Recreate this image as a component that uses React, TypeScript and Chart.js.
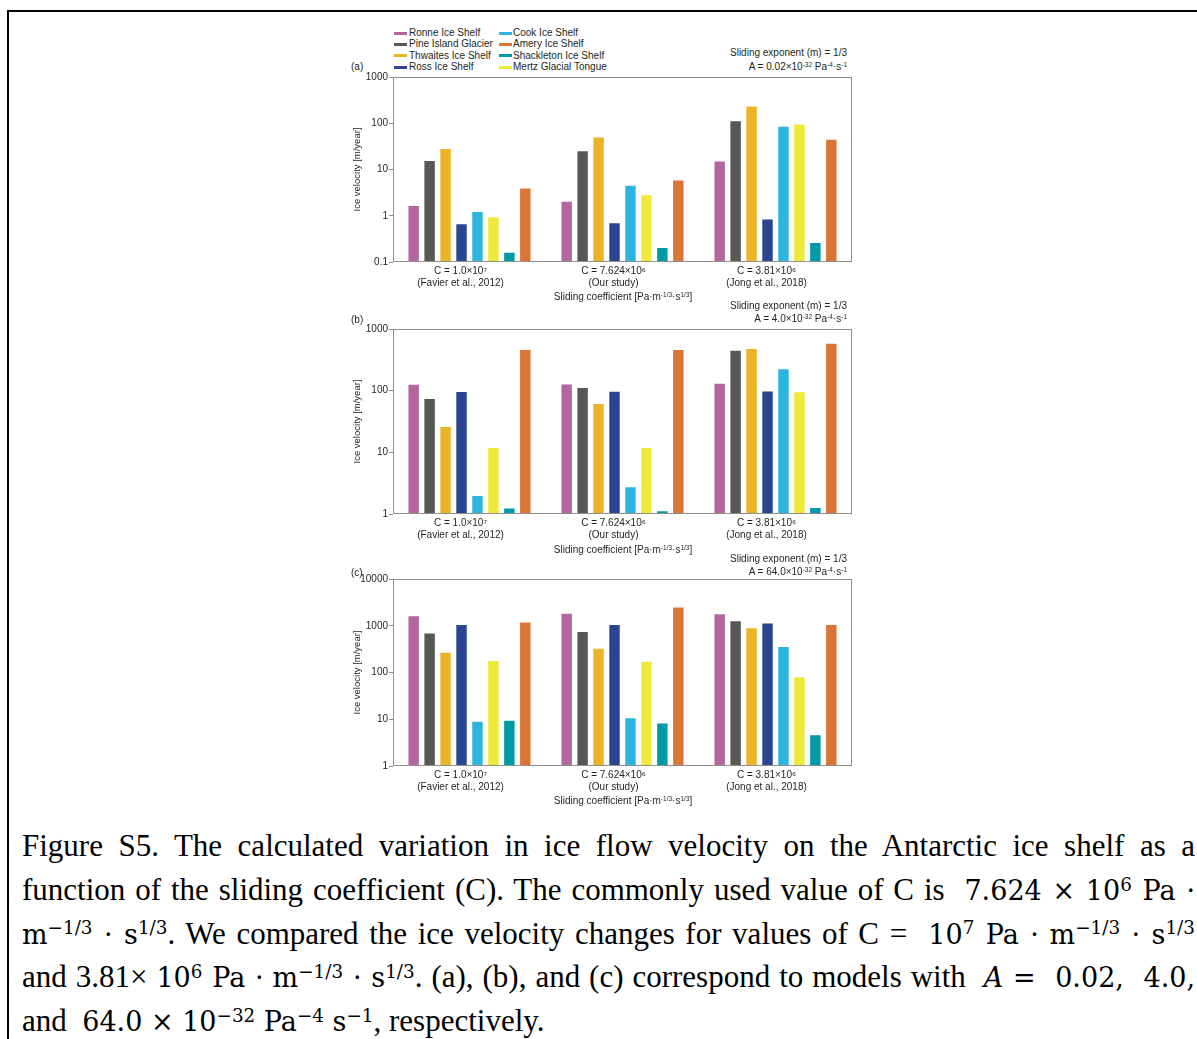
import React, { useEffect, useRef } from 'react';
import { Chart, registerables } from 'chart.js';

Chart.register(...registerables);

// ---------- data ----------
const categories = [
  ['C = 1.0×10⁷', '(Favier et al., 2012)'],
  ['C = 7.624×10⁶', '(Our study)'],
  ['C = 3.81×10⁶', '(Jong et al., 2018)'],
];

const seriesNames = [
  'Ronne Ice Shelf',
  'Pine Island Glacier',
  'Thwaites Ice Shelf',
  'Ross Ice Shelf',
  'Cook Ice Shelf',
  'Mertz Glacial Tongue',
  'Shackleton Ice Shelf',
  'Amery Ice Shelf',
];

const seriesColors = ['#b3669e', '#575756', '#ebb326', '#2b4590', '#2db5e0', '#efea3a', '#0099a8', '#d97635'];

// legend layout order (column-major, as in the figure)
const legendLeft = ['Ronne Ice Shelf', 'Pine Island Glacier', 'Thwaites Ice Shelf', 'Ross Ice Shelf'];
const legendRight = ['Cook Ice Shelf', 'Amery Ice Shelf', 'Shackleton Ice Shelf', 'Mertz Glacial Tongue'];

// Panel (a): A = 0.02e-32
const aRonne = [1.7, 2.1, 15.7];
const aPine = [16, 26, 116];
const aThwaites = [29, 52, 241];
const aRoss = [0.69, 0.72, 0.87];
const aCook = [1.26, 4.7, 88];
const aMertz = [0.98, 2.9, 99];
const aShackleton = [0.167, 0.21, 0.27];
const aAmery = [4.1, 6.1, 46];

// Panel (b): A = 4.0e-32
const bRonne = [130, 131, 135];
const bPine = [76, 115, 462];
const bThwaites = [26.7, 63, 492];
const bRoss = [99, 100, 101];
const bCook = [2.03, 2.81, 230];
const bMertz = [12.2, 12.2, 97.5];
const bShackleton = [1.27, 1.15, 1.3];
const bAmery = [474, 474, 600];

// Panel (c): A = 64.0e-32
const cRonne = [1683, 1888, 1858];
const cPine = [713, 774, 1313];
const cThwaites = [278, 339, 929];
const cRoss = [1095, 1095, 1170];
const cCook = [9.3, 11.1, 368];
const cMertz = [184, 178, 83];
const cShackleton = [9.76, 8.55, 4.8];
const cAmery = [1230, 2584, 1095];

const ticksA = [0.1, 1, 10, 100, 1000];
const ticksB = [1, 10, 100, 1000];
const ticksC = [1, 10, 100, 1000, 10000];

const panelAData = [aRonne, aPine, aThwaites, aRoss, aCook, aMertz, aShackleton, aAmery];
const panelBData = [bRonne, bPine, bThwaites, bRoss, bCook, bMertz, bShackleton, bAmery];
const panelCData = [cRonne, cPine, cThwaites, cRoss, cCook, cMertz, cShackleton, cAmery];

// ---------- styling ----------
const SANS = '"Liberation Sans", Arial, sans-serif';
const SERIF = '"Liberation Serif", "Times New Roman", serif';
const MATH = '"DejaVu Serif", serif';
const TEXT = '#231f20';

const framePlugin = {
  id: 'frameBox',
  afterDraw(chart: any) {
    const { ctx, chartArea } = chart;
    ctx.save();
    ctx.strokeStyle = '#8f8f8f';
    ctx.lineWidth = 1;
    ctx.strokeRect(
      Math.round(chartArea.left) + 0.5,
      Math.round(chartArea.top) + 0.5,
      Math.round(chartArea.right - chartArea.left) - 1,
      Math.round(chartArea.bottom - chartArea.top) - 1
    );
    ctx.restore();
  },
};

function Panel(props: { top: number; height: number; data: number[][]; ticks: number[] }) {
  const ref = useRef<HTMLCanvasElement>(null);
  useEffect(() => {
    const ticks = props.ticks;
    const chart = new Chart(ref.current as HTMLCanvasElement, {
      type: 'bar',
      data: {
        labels: categories as any,
        datasets: seriesNames.map((name, i) => ({
          label: name,
          data: props.data[i],
          backgroundColor: seriesColors[i],
          borderColor: 'rgba(255,255,255,0.45)',
          borderWidth: 1,
          categoryPercentage: 0.834,
          barPercentage: 0.78,
        })),
      },
      options: {
        responsive: false,
        animation: false,
        devicePixelRatio: 1,
        layout: { padding: { top: 7, right: 4, left: 0, bottom: 0 } },
        plugins: { legend: { display: false }, tooltip: { enabled: false }, title: { display: false } },
        scales: {
          x: {
            grid: { display: false, drawTicks: false },
            border: { display: false },
            ticks: {
              color: TEXT,
              font: { family: SANS, size: 10, lineHeight: 1.2 },
              padding: 3,
              labelOffset: -9,
              maxRotation: 0,
              autoSkip: false,
            },
            afterFit: (s: any) => {
              s.height = 30;
            },
          },
          y: {
            type: 'logarithmic',
            min: ticks[0],
            max: ticks[ticks.length - 1],
            afterBuildTicks: (s: any) => {
              s.ticks = ticks.map((v) => ({ value: v }));
            },
            grid: { drawOnChartArea: false, drawTicks: true, tickLength: 4, color: '#8f8f8f' },
            border: { display: false },
            ticks: {
              color: TEXT,
              font: { family: SANS, size: 10 },
              padding: 1,
              autoSkip: false,
              callback: (v: any) => String(v),
            },
            title: {
              display: true,
              text: 'Ice velocity [m/year]',
              color: TEXT,
              font: { family: SANS, size: 9.5 },
              padding: { top: 11.3, bottom: 0 },
            },
            afterFit: (s: any) => {
              s.width = 53;
            },
          },
        },
      } as any,
      plugins: [framePlugin],
    });
    return () => chart.destroy();
  }, []);
  return (
    <canvas
      ref={ref}
      width={516}
      height={props.height}
      style={{ position: 'absolute', left: 340, top: props.top, width: 516, height: props.height }}
    />
  );
}

const supSmall: React.CSSProperties = { fontSize: '6.5px', position: 'relative', top: '-3.5px', verticalAlign: 'baseline' };
const supCap: React.CSSProperties = { fontSize: '0.68em', position: 'relative', top: '-0.5em', verticalAlign: 'baseline' };
const mathStyle: React.CSSProperties = { fontFamily: MATH, fontSize: '27px' };

function SmallText(props: { x: number; y: number; w?: number; align?: 'left' | 'right' | 'center'; children: any }) {
  const w = props.w ?? 300;
  return (
    <div
      style={{
        position: 'absolute',
        left: props.x,
        top: props.y - 6,
        width: w,
        height: 12,
        lineHeight: '12px',
        fontFamily: SANS,
        fontSize: '10px',
        color: TEXT,
        textAlign: props.align ?? 'left',
        whiteSpace: 'nowrap',
      }}
    >
      {props.children}
    </div>
  );
}

function Annot(props: { y1: number; y2: number; a: string }) {
  return (
    <>
      <SmallText x={547} y={props.y1} w={300} align="right">
        Sliding exponent (m) = 1/3
      </SmallText>
      <SmallText x={547} y={props.y2} w={300} align="right">
        A = {props.a}×10<span style={supSmall}>-32</span> Pa<span style={supSmall}>-4</span>·s<span style={supSmall}>-1</span>
      </SmallText>
    </>
  );
}

function XTitle(props: { y: number }) {
  return (
    <SmallText x={473} y={props.y} w={300} align="center">
      Sliding coefficient [Pa·m<span style={supSmall}>-1/3</span>·s<span style={supSmall}>1/3</span>]
    </SmallText>
  );
}

function CapLine(props: { i: number; last?: boolean; children: any }) {
  return (
    <div
      style={{
        position: 'absolute',
        left: 22,
        top: 824 + props.i * 43.8,
        width: 1173,
        height: 44,
        lineHeight: '44px',
        fontFamily: SERIF,
        fontSize: '31px',
        color: '#000',
        textAlign: props.last ? 'left' : 'justify',
        textAlignLast: props.last ? 'left' : 'justify',
        whiteSpace: 'nowrap',
      } as React.CSSProperties}
    >
      {props.children}
    </div>
  );
}

const M = (props: { children: any }) => <span style={mathStyle}>{props.children}</span>;

const m13 = (
  <M>
    m<span style={supCap}>−1/3</span> · s<span style={supCap}>1/3</span>
  </M>
);

export default function App() {
  return (
    <div
      style={{
        position: 'absolute',
        left: 0,
        top: 0,
        width: 1197,
        height: 1039,
        overflow: 'hidden',
        background: '#fff',
      }}
    >
      {/* outer frame */}
      <div
        style={{
          position: 'absolute',
          left: 7,
          top: 10,
          width: 1190,
          height: 1029,
          borderTop: '2px solid #000',
          borderLeft: '2px solid #000',
          boxSizing: 'border-box',
        }}
      />

      {/* legend */}
      {legendLeft.map((name, r) => (
        <React.Fragment key={'l' + name}>
          <div
            style={{
              position: 'absolute',
              left: 394,
              top: 33 + r * 11.4 - 1.5,
              width: 13,
              height: 3,
              background: seriesColors[seriesNames.indexOf(name)],
            }}
          />
          <SmallText x={409} y={33 + r * 11.4}>{name}</SmallText>
        </React.Fragment>
      ))}
      {legendRight.map((name, r) => (
        <React.Fragment key={'r' + name}>
          <div
            style={{
              position: 'absolute',
              left: 499,
              top: 33 + r * 11.4 - 1.5,
              width: 13,
              height: 3,
              background: seriesColors[seriesNames.indexOf(name)],
            }}
          />
          <SmallText x={513} y={33 + r * 11.4}>{name}</SmallText>
        </React.Fragment>
      ))}

      {/* panel (a) */}
      <SmallText x={351} y={67}>(a)</SmallText>
      <Annot y1={53} y2={67} a="0.02" />
      <Panel top={70} height={222} data={panelAData} ticks={ticksA} />
      <XTitle y={297} />

      {/* panel (b) */}
      <SmallText x={351} y={320}>(b)</SmallText>
      <Annot y1={306} y2={319} a="4.0" />
      <Panel top={322} height={222} data={panelBData} ticks={ticksB} />
      <XTitle y={550} />

      {/* panel (c) */}
      <SmallText x={351} y={573}>(c)</SmallText>
      <Annot y1={559} y2={572} a="64.0" />
      <Panel top={572} height={224} data={panelCData} ticks={ticksC} />
      <XTitle y={801} />

      {/* caption */}
      <CapLine i={0}>
        Figure S5. The calculated variation in ice flow velocity on the Antarctic ice shelf as a
      </CapLine>
      <CapLine i={1}>
        function of the sliding coefficient (C). The commonly used value of C is&nbsp; <M>7.624 × 10<span style={supCap}>6</span> Pa ·</M>
      </CapLine>
      <CapLine i={2}>
        {m13}. We compared the ice velocity changes for values of C =&nbsp; <M>10<span style={supCap}>7</span> Pa ·</M> {m13}
      </CapLine>
      <CapLine i={3}>
        and 3.81× <M>10<span style={supCap}>6</span> Pa ·</M> {m13}. (a), (b), and (c) correspond to models with&nbsp; <M><i>A</i> =&nbsp; 0.02,&nbsp; 4.0,</M>
      </CapLine>
      <CapLine i={4} last>
        and&nbsp; <M>64.0 × 10<span style={supCap}>−32</span> Pa<span style={supCap}>−4</span> s<span style={supCap}>−1</span></M>, respectively.
      </CapLine>
    </div>
  );
}
